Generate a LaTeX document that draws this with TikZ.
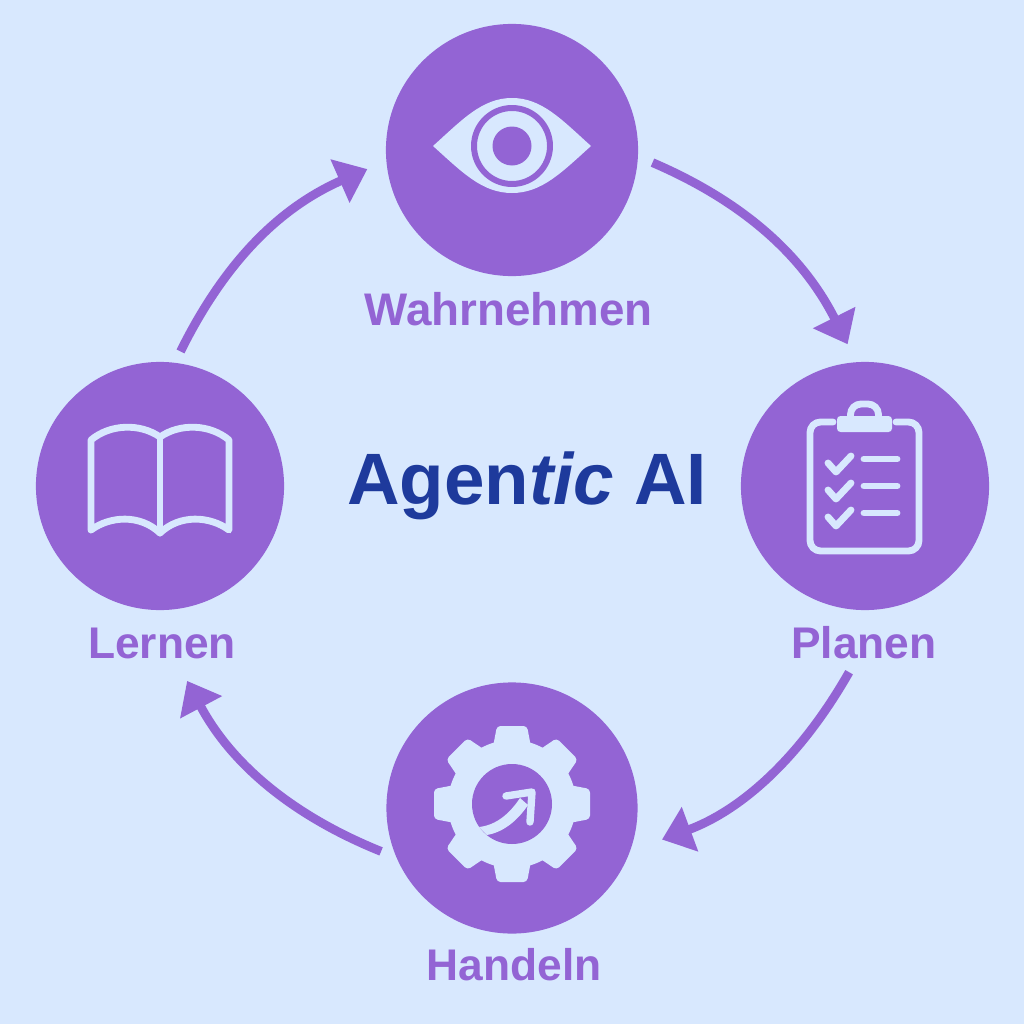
\documentclass[tikz,border=0pt]{standalone}
\usepackage{fontspec}
\setmainfont{Liberation Sans}
\usetikzlibrary{arrows.meta,positioning}
\definecolor{bgblue}{HTML}{D8E8FE}
\definecolor{agentpurple}{HTML}{9364D4}
\definecolor{titleblue}{HTML}{1E3A9C}
\tikzset{
  stage/.style={circle,fill=agentpurple,minimum size=2.5cm,inner sep=0pt},
  stagename/.style={text=agentpurple,font=\fontsize{12.6}{14}\selectfont\bfseries,inner sep=0pt},
  flow/.style={draw=agentpurple,line width=2.5pt,-{Triangle[length=8.5pt,width=13pt]}},
  iconline/.style={draw=bgblue,line width=1.95pt,line cap=round,line join=round},
  iconfill/.style={fill=bgblue}
}
\begin{document}
\begin{tikzpicture}[x=.01cm,y=-.01cm]
  \useasboundingbox[fill=bgblue] (0,0) rectangle (1024,1024);
  \node[stage,minimum size=2.52cm] (wahr) at (512,150) {};
  \node[stage,minimum size=2.48cm] (plan) at (865,486) {};
  \node[stage,minimum size=2.51cm] (hand) at (512,808) {};
  \node[stage,minimum size=2.48cm] (lern) at (160,486) {};
  \node[stagename,font=\fontsize{13}{14}\selectfont\bfseries] (wahrname) at (508.5,309) {Wahrnehmen};
  \node[stagename] (planname) at (864,643) {Planen};
  \node[stagename] (handname) at (514,965) {Handeln};
  \node[stagename] (lernname) at (162,643) {Lernen};
  \node[text=titleblue,inner sep=0pt,font=\fontsize{20.7}{24}\selectfont\bfseries] (title) at (527,486)
    {Agen\textit{tic} AI};
  % arrows between the stages
  \draw[flow,shorten <=4.3pt,shorten >=5.5pt] (wahr.-3) to[bend left=20] (plan.94);
  \draw[flow,shorten <=4pt,shorten >=9.5pt] (planname.-115) to[bend left=20] (hand.-20);
  \draw[flow,shorten <=4.5pt,shorten >=7pt] (hand.203) to[bend left=20] (lernname.-50);
  \draw[flow,shorten <=3.4pt,shorten >=5.7pt] (lern.83) to[bend left=20] (wahr.185);
  % eye
  \fill[iconfill] (433,146) .. controls (462,120) and (482,98) .. (512,98)
    .. controls (542,98) and (562,120) .. (591,146)
    .. controls (562,172) and (542,193) .. (512,193)
    .. controls (482,193) and (462,172) .. (433,146) -- cycle;
  \draw[agentpurple,line width=1.7pt] (512,146) circle (38);
  \fill[agentpurple] (512,146) circle (19.5);
  % clipboard
  \draw[iconline,rounded corners=3pt] (833,422) -- (810,422) -- (810,551) -- (919,551) -- (919,422) -- (896,422);
  \fill[iconfill,rounded corners=1pt] (837,416) rectangle (892,432);
  \draw[iconline,rounded corners=3pt] (850.5,418) -- (850.5,404) -- (878.5,404) -- (878.5,418);
  \foreach \yy in {0,27,54}{
    \draw[iconline] (828,463+\yy) -- (836,472+\yy) -- (851,456+\yy);
    \draw[iconline] (864,459+\yy) -- (897,459+\yy);
  }
  % gear
  \fill[iconfill] (512,804) circle (64);
  \foreach \aa in {0,45,...,315}{
    \fill[iconfill,rotate around={\aa:(512,804)},rounded corners=1pt]
      (492,752) -- (497,726) -- (527,726) -- (532,752) -- cycle;
  }
  \fill[agentpurple] (512,804) circle (40);
  \fill[iconfill] (479,827) .. controls (497,825) and (510,813) .. (520,798)
    -- (528,805) .. controls (518,820) and (504,832) .. (487,835) -- cycle;
  \draw[iconline,line width=2.1pt] (506,796) -- (532,792) -- (530,822);
  % book
  \draw[iconline] (91,530) -- (91,440) .. controls (110,424) and (140,423) .. (160,437)
    .. controls (180,423) and (210,424) .. (229,440) -- (229,530)
    .. controls (210,516) and (180,514) .. (160,533)
    .. controls (140,514) and (110,516) .. (91,530);
  \draw[iconline] (160,437) -- (160,533);
\end{tikzpicture}
\end{document}
